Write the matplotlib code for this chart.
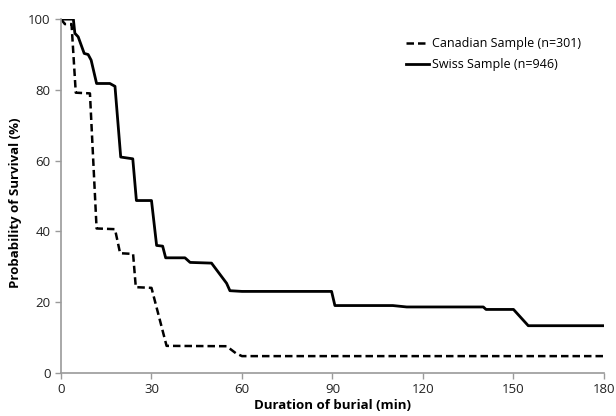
import matplotlib
matplotlib.use("Agg")
import matplotlib.pyplot as plt

# Swiss sample (n=946)
swiss_t = [0, 4.1, 4.6, 5.7, 7.7, 9.0, 10.0, 11.8, 16.2, 17.9, 19.8, 23.8, 25.0, 30.0, 31.7, 33.7, 34.7,
           41.1, 42.8, 49.9, 54.9, 56.0, 60.0, 89.7, 90.8, 110.0, 114.6, 140.0, 140.9, 150.0, 154.9, 180.0]
swiss_s = [100, 100, 96.0, 95.0, 90.3, 90.0, 88.4, 81.8, 81.8, 81.0, 61.0, 60.5, 48.7, 48.7, 36.0, 35.8, 32.5,
           32.5, 31.2, 31.0, 25.3, 23.2, 23.0, 23.0, 19.0, 19.0, 18.6, 18.6, 17.9, 17.9, 13.3, 13.3]

# Canadian sample (n=301)
can_t = [0, 1.3, 3.5, 4.9, 9.6, 11.8, 17.9, 19.6, 23.9, 24.8, 30.0, 35.0, 54.9, 58.0, 60.0, 180.0]
can_s = [100, 98.6, 98.6, 79.2, 79.0, 40.8, 40.6, 33.8, 33.6, 24.2, 24.0, 7.6, 7.5, 5.5, 4.7, 4.7]

xticks = [0, 30, 60, 90, 120, 150, 180]
yticks = [0, 20, 40, 60, 80, 100]

plt.rcParams['font.family'] = ['Open Sans', 'DejaVu Sans']

fig = plt.figure(figsize=(6.16, 4.16), dpi=100)
ax = fig.add_axes([0.099, 0.104, 0.8815, 0.850])

ax.plot(can_t, can_s, color='black', lw=1.8, ls=(0, (3, 1.6)), label='Canadian Sample (n=301)')
ax.plot(swiss_t, swiss_s, color='black', lw=2.0, ls='-', label='Swiss Sample (n=946)')

ax.set_xlim(0, 180)
ax.set_ylim(0, 100)
ax.set_xticks(xticks)
ax.set_yticks(yticks)
ax.tick_params(axis='both', labelsize=9.5, colors='#9a9a9a', length=4, width=1, direction='out')
for side in ['top', 'right']:
    ax.spines[side].set_visible(False)
for side in ['left', 'bottom']:
    ax.spines[side].set_color('#9a9a9a')
    ax.spines[side].set_linewidth(1.2)
for lab in ax.get_xticklabels() + ax.get_yticklabels():
    lab.set_color('#222222')

ax.set_xlabel('Duration of burial (min)', fontsize=9.5, fontweight='bold', labelpad=2)
ax.set_ylabel('Probability of Survival (%)', fontsize=9.5, fontweight='bold')
ax.yaxis.set_label_coords(-0.072, 0.48)

leg = ax.legend(loc='upper right', bbox_to_anchor=(0.978, 0.98), frameon=False, fontsize=9,
                handlelength=1.9, handletextpad=0.2, labelspacing=0.6)

fig.savefig('out.png', dpi=100)
